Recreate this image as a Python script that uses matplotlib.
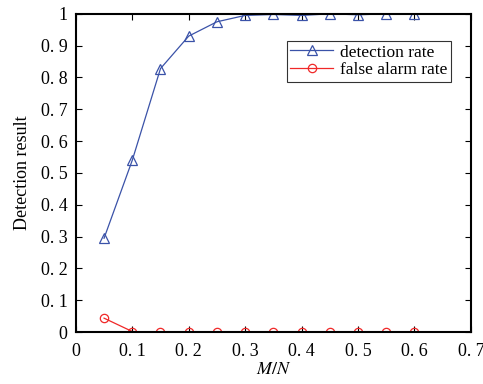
import matplotlib.pyplot as plt
import numpy as np

# M/N 比例与检测结果
ratio = [0.05, 0.1, 0.15, 0.2, 0.25, 0.3, 0.35, 0.4, 0.45, 0.5, 0.55, 0.6]
detection = [0.295, 0.54, 0.828, 0.93, 0.975, 0.995, 0.998, 0.995, 1.0, 0.997, 1.0, 0.999]
false_alarm = [0.044, 0.002, 0.0, 0.0, 0.0, 0.0, 0.0, 0.0, 0.0, 0.0, 0.0, 0.0]

plt.rcParams["font.family"] = ["Liberation Serif", "DejaVu Serif"]
plt.rcParams["mathtext.fontset"] = "stix"

fig = plt.figure(figsize=(4.83, 3.84), dpi=100)
ax = fig.add_axes([0.157, 0.135, 0.818, 0.829])

ax.plot(ratio, detection, color="#3a52a8", lw=0.9, marker="^", ms=6.5,
        mfc="none", mec="#3a52a8", mew=0.9, label="detection rate")
ax.plot(ratio, false_alarm, color="#f02828", lw=0.9, marker="o", ms=6,
        mfc="none", mec="#f02828", mew=0.9, label="false alarm rate")

ax.set_xlim(0, 0.7)
ax.set_ylim(0, 1)
xt = np.arange(0, 0.71, 0.1)
yt = np.arange(0, 1.01, 0.1)
ax.set_xticks(xt)
ax.set_yticks(yt)
ax.set_xticklabels(["0"] + ["0. %d" % i for i in range(1, 8)])
ax.set_yticklabels(["0"] + ["0. %d" % i for i in range(1, 10)] + ["1"])
ax.tick_params(direction="in", top=True, right=True, length=4, width=0.8,
               labelsize=13, pad=6)
ax.tick_params(axis="x", pad=8)
for s in ax.spines.values():
    s.set_linewidth(1.5)

ax.set_xlabel("$M/N$", fontsize=13)
ax.xaxis.set_label_coords(0.5, -0.09)
ax.xaxis.label.set_verticalalignment("top")
ax.set_ylabel("Detection result", fontsize=13, labelpad=7)

leg = ax.legend(loc="upper right", bbox_to_anchor=(0.95, 0.915), fontsize=12.5,
                frameon=True, fancybox=False, edgecolor="black",
                borderpad=0.2, handlelength=2.5, labelspacing=0.1,
                handletextpad=0.4, borderaxespad=0)
leg.get_frame().set_linewidth(0.8)

fig.savefig("out.png", dpi=100)
